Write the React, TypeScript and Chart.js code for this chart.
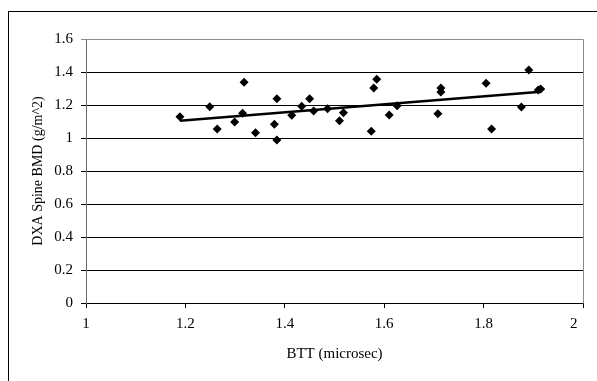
import React, { useEffect, useRef } from "react";
import { Chart, registerables } from "chart.js";

Chart.register(...registerables);

// Scatter data: BTT (microsec) vs DXA Spine BMD (g/m^2)
const bttValues = [
  1.189, 1.249, 1.264, 1.299, 1.318, 1.315, 1.341, 1.384, 1.379, 1.384,
  1.414, 1.434, 1.45, 1.458, 1.486, 1.51, 1.518, 1.585, 1.579, 1.574,
  1.61, 1.626, 1.708, 1.714, 1.714, 1.805, 1.816, 1.876, 1.891, 1.91, 1.915,
];
const bmdValues = [
  1.129, 1.19, 1.055, 1.097, 1.338, 1.15, 1.032, 1.238, 1.083, 0.988,
  1.138, 1.192, 1.238, 1.164, 1.178, 1.105, 1.153, 1.356, 1.303, 1.041,
  1.139, 1.196, 1.147, 1.303, 1.279, 1.332, 1.055, 1.188, 1.412, 1.291, 1.297,
];

// Trend line (start and end)
const trendX = [1.189, 1.915];
const trendY = [1.105, 1.28];

const xTicks = [1, 1.2, 1.4, 1.6, 1.8, 2];
const yTicks = [0, 0.2, 0.4, 0.6, 0.8, 1, 1.2, 1.4, 1.6];

const FONT = "'Liberation Serif', 'Times New Roman', serif";

const plotBorder = {
  id: "plotBorder",
  afterDraw(chart: any) {
    const { ctx, chartArea } = chart;
    ctx.save();
    ctx.strokeStyle = "#8c8c8c";
    ctx.lineWidth = 1;
    ctx.beginPath();
    ctx.moveTo(Math.round(chartArea.left) + 0.5, Math.round(chartArea.top) + 0.5);
    ctx.lineTo(Math.round(chartArea.right) + 0.5, Math.round(chartArea.top) + 0.5);
    ctx.lineTo(Math.round(chartArea.right) + 0.5, Math.round(chartArea.bottom) + 0.5);
    ctx.stroke();
    ctx.restore();
  },
};

export default function App() {
  const canvasRef = useRef<HTMLCanvasElement | null>(null);

  useEffect(() => {
    if (!canvasRef.current) return;
    const points = bttValues.map((x, i) => ({ x, y: bmdValues[i] }));
    const trend = trendX.map((x, i) => ({ x, y: trendY[i] }));
    const lastX = xTicks[xTicks.length - 1];
    const chart = new Chart(canvasRef.current, {
      type: "scatter",
      data: {
        datasets: [
          {
            label: "Trend",
            data: trend,
            showLine: true,
            borderColor: "#000",
            borderWidth: 2.5,
            pointRadius: 0,
            order: 1,
          },
          {
            label: "BMD",
            data: points,
            pointStyle: "rectRot",
            pointRadius: 4.5,
            backgroundColor: "#000",
            borderColor: "#000",
            borderWidth: 0,
            order: 0,
          },
        ],
      },
      options: {
        animation: false,
        responsive: false,
        devicePixelRatio: 1,
        layout: { padding: { left: 0, right: 14, top: 39, bottom: 0 } },
        plugins: { legend: { display: false }, tooltip: { enabled: false } },
        scales: {
          x: {
            type: "linear",
            min: 1,
            max: 2,
            afterBuildTicks: (s: any) => {
              s.ticks = xTicks.map((v) => ({ value: v }));
            },
            afterFit: (s: any) => {
              s.height = 78;
              s.paddingRight = 0;
              s.paddingLeft = 0;
            },
            grid: {
              drawOnChartArea: false,
              drawTicks: true,
              tickLength: 5,
              color: "#000",
            },
            border: { display: true, color: "#000", width: 1 },
            ticks: {
              color: "#000",
              padding: 7,
              maxRotation: 0,
              font: { family: FONT, size: 15 },
              callback: (v: any) => (v === lastX ? String(v) + "     " : String(v)),
            },
            title: {
              display: true,
              text: "BTT (microsec)",
              color: "#000",
              font: { family: FONT, size: 15 },
              padding: { top: 0, bottom: 18 },
            },
          },
          y: {
            type: "linear",
            min: 0,
            max: 1.6,
            afterBuildTicks: (s: any) => {
              s.ticks = yTicks.map((v) => ({ value: v }));
            },
            afterFit: (s: any) => {
              s.width = 86;
              s.paddingTop = 0;
              s.paddingBottom = 0;
            },
            grid: {
              drawOnChartArea: true,
              drawTicks: true,
              tickLength: 5,
              color: (c: any) => (c.tick && c.tick.value === 1.6 ? "#8c8c8c" : "#000"),
            },
            border: { display: true, color: "#6e6e6e", width: 1 },
            ticks: {
              color: "#000",
              padding: 8,
              font: { family: FONT, size: 15 },
              callback: (v: any) => String(v),
            },
            title: {
              display: true,
              text: "DXA Spine BMD (g/m^2)",
              color: "#000",
              font: { family: FONT, size: 14 },
              padding: { top: 30, bottom: 0 },
            },
          },
        },
      },
      plugins: [plotBorder],
    });
    return () => chart.destroy();
  }, []);

  return (
    <div
      style={{
        position: "fixed",
        left: 0,
        top: 0,
        width: 597,
        height: 381,
        overflow: "hidden",
        background: "#fff",
      }}
    >
      <div
        style={{
          position: "absolute",
          left: 8,
          top: 11,
          width: 700,
          height: 500,
          border: "1px solid #000",
          boxSizing: "border-box",
        }}
      />
      <canvas
        ref={canvasRef}
        width={597}
        height={381}
        style={{ position: "absolute", left: 0, top: 0, width: 597, height: 381 }}
      />
    </div>
  );
}
